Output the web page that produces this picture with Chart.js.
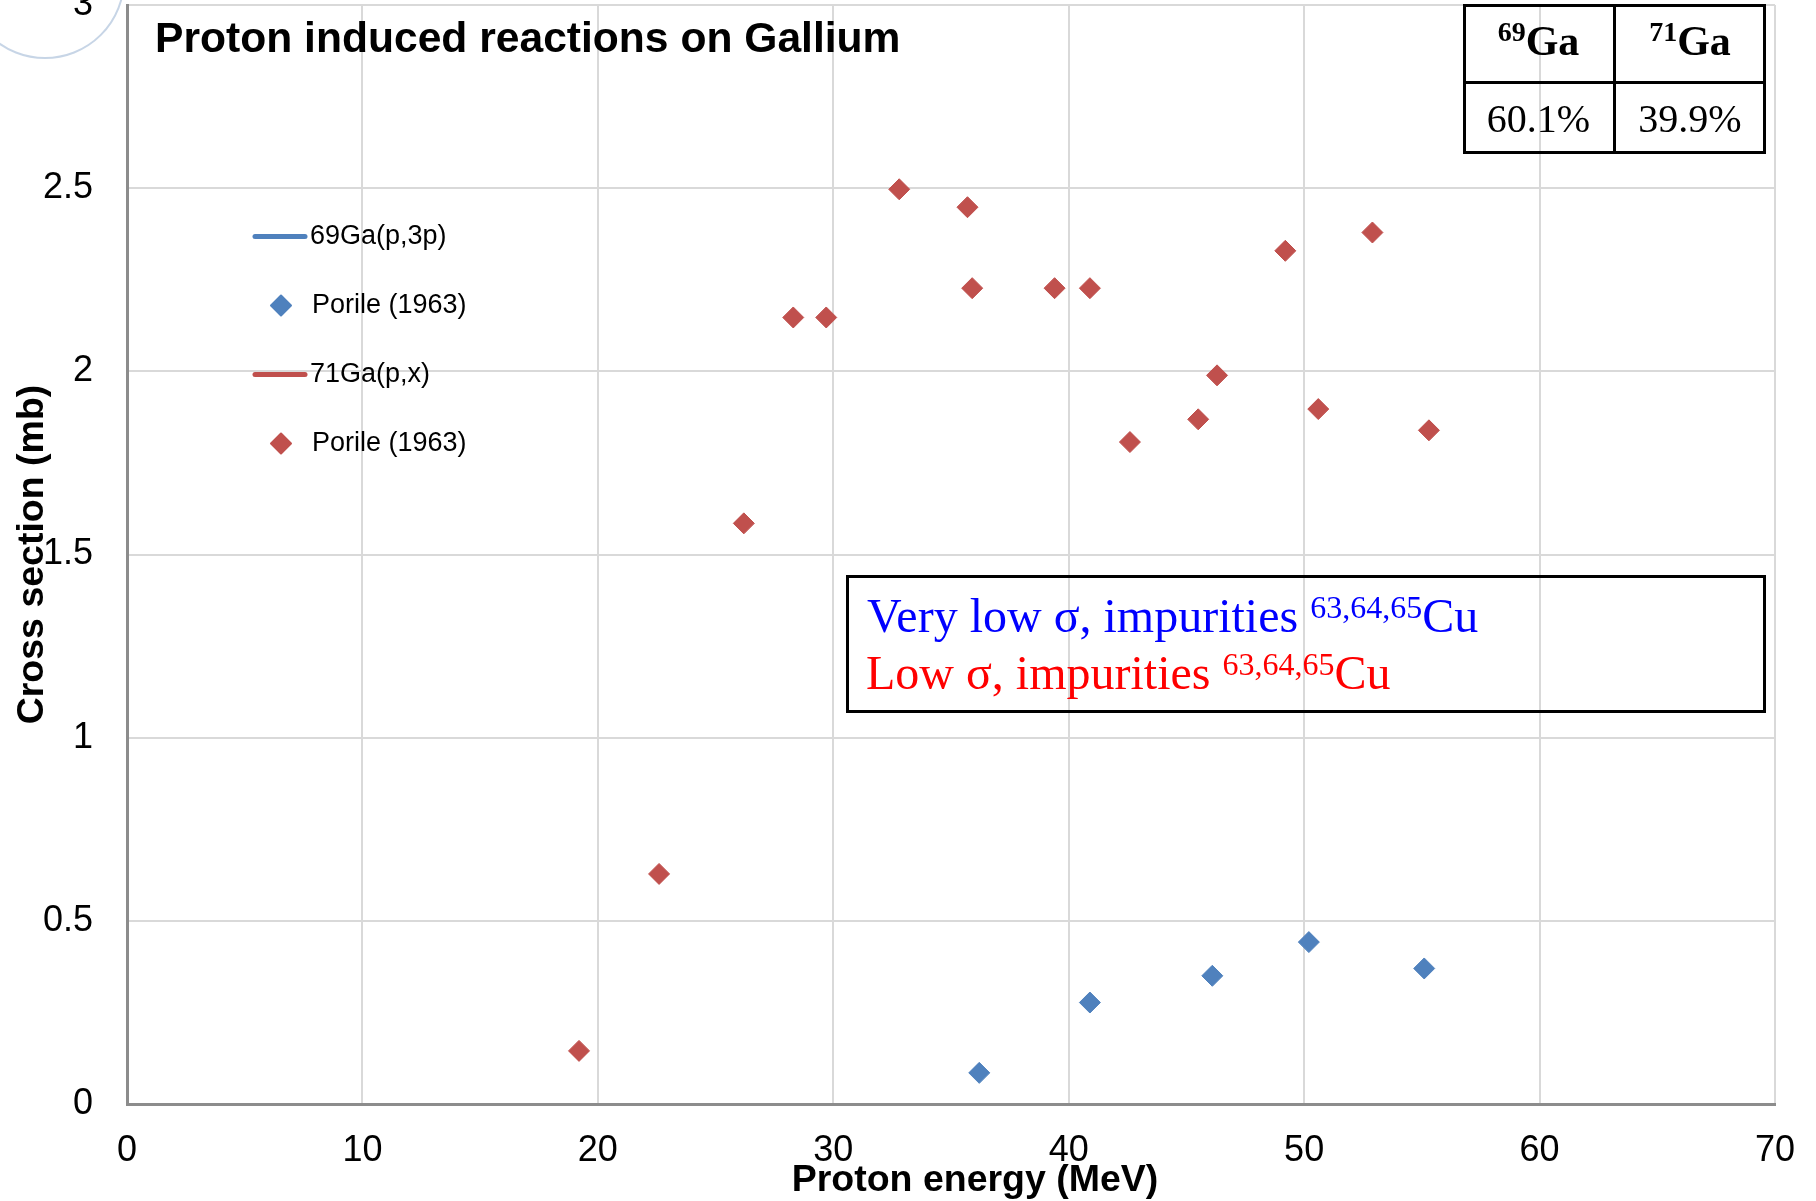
<!DOCTYPE html>
<html>
<head>
<meta charset="utf-8">
<script src="https://cdn.jsdelivr.net/npm/chart.js@4/dist/chart.umd.min.js"></script>
<style>
html,body{margin:0;padding:0;background:#fff;}
#wrap{position:relative;width:1816px;height:1201px;overflow:hidden;background:#fff;}
#c{position:absolute;left:0;top:-40px;}
.cell{position:absolute;display:flex;align-items:center;justify-content:center;font-family:"Liberation Serif","Times New Roman",serif;color:#000;}
.bx{position:absolute;box-sizing:border-box;border:3px solid #000;background:transparent;}
.ln{position:absolute;background:#000;}
.note{position:absolute;font-family:"Liberation Serif","Times New Roman",serif;font-size:48px;line-height:1;white-space:nowrap;}
.note sup, .cell sup{vertical-align:baseline;position:relative;}
</style>
</head>
<body>
<div id="wrap">
  <canvas id="c" width="1816" height="1241"></canvas>

  <!-- isotope abundance table -->
  <div class="bx" style="left:1463px;top:4px;width:303px;height:150px;"></div>
  <div class="ln" style="left:1613px;top:4px;width:3px;height:150px;"></div>
  <div class="ln" style="left:1463px;top:81px;width:303px;height:3px;"></div>
  <div class="cell" style="left:1463px;top:3px;width:151px;height:76px;font-weight:bold;font-size:42px;"><span><sup style="font-size:28px;top:-14px;">69</sup>Ga</span></div>
  <div class="cell" style="left:1614px;top:3px;width:152px;height:76px;font-weight:bold;font-size:42px;"><span><sup style="font-size:28px;top:-14px;">71</sup>Ga</span></div>
  <div class="cell" style="left:1463px;top:83px;width:151px;height:70px;font-size:40px;">60.1%</div>
  <div class="cell" style="left:1614px;top:83px;width:152px;height:70px;font-size:40px;">39.9%</div>

  <!-- note box -->
  <div class="bx" style="left:846px;top:575px;width:920px;height:138px;"></div>
  <div class="note" style="left:867px;top:592px;color:#0000ff;">Very low σ, impurities <sup style="font-size:32px;top:-14px;">63,64,65</sup>Cu</div>
  <div class="note" style="left:866px;top:649px;color:#ff0000;">Low σ, impurities <sup style="font-size:32px;top:-14px;">63,64,65</sup>Cu</div>
</div>

<script>
// ---- data ----
const energy69 = [36.2, 40.9, 46.1, 50.2, 55.1];
const sigma69  = [0.085, 0.277, 0.350, 0.442, 0.370];
const energy71 = [19.2, 22.6, 26.2, 28.3, 29.7, 32.8, 35.7, 35.9, 39.4, 40.9, 42.6, 45.5, 46.3, 49.2, 50.6, 52.9, 55.3];
const sigma71  = [0.145, 0.628, 1.585, 2.147, 2.147, 2.497, 2.448, 2.227, 2.227, 2.227, 1.807, 1.869, 1.989, 2.329, 1.897, 2.379, 1.839];
const seriesLabels = ['69Ga(p,3p)', 'Porile (1963)', '71Ga(p,x)', 'Porile (1963)'];
const xTicks = [0, 10, 20, 30, 40, 50, 60, 70];
const yTicks = [0, 0.5, 1, 1.5, 2, 2.5, 3];
const chartTitle = 'Proton induced reactions on Gallium';
const xTitle = 'Proton energy (MeV)';
const yTitle = 'Cross section (mb)';

const BLUE = '#4f81bd', RED = '#c0504d';
const OFF = 40; // canvas is shifted up by this many pixels

function pts(xs, ys){ return xs.map((x,i)=>({x:x, y:ys[i]})); }

const decorPlugin = {
  id:'decor',
  beforeDraw(chart){
    const ctx = chart.ctx;
    ctx.save();
    ctx.strokeStyle = 'rgba(175,195,220,0.7)';
    ctx.lineWidth = 2;
    ctx.beginPath();
    ctx.arc(45, -21 + OFF, 79, 0, Math.PI);
    ctx.stroke();
    ctx.restore();
  }
};

const textPlugin = {
  id:'texts',
  afterDraw(chart){
    const ctx = chart.ctx, a = chart.chartArea;
    ctx.save();
    // title
    ctx.fillStyle = '#000';
    ctx.font = 'bold 42.6px "Liberation Sans", Arial, sans-serif';
    ctx.textAlign = 'left';
    ctx.textBaseline = 'alphabetic';
    ctx.fillText(chartTitle, 155, 52 + OFF);
    // x axis title
    ctx.font = 'bold 37.5px "Liberation Sans", Arial, sans-serif';
    ctx.textAlign = 'center';
    ctx.textBaseline = 'middle';
    ctx.fillText(xTitle, (a.left + a.right) / 2 + 24, 1181 + OFF);
    // legend
    ctx.font = '27px "Liberation Sans", Arial, sans-serif';
    ctx.textAlign = 'left';
    chart.data.datasets.forEach((ds, i) => {
      const y = 236.5 + i * 69 + OFF;
      if (ds.type === 'line') {
        ctx.strokeStyle = ds.borderColor;
        ctx.lineWidth = 5;
        ctx.lineCap = 'round';
        ctx.beginPath();
        ctx.moveTo(255, y);
        ctx.lineTo(305, y);
        ctx.stroke();
        ctx.fillStyle = '#000';
        ctx.fillText(ds.label, 310, y);
      } else {
        ctx.fillStyle = ds.backgroundColor;
        ctx.strokeStyle = ds.backgroundColor;
        ctx.lineWidth = 2;
        ctx.lineJoin = 'round';
        ctx.beginPath();
        ctx.moveTo(281, y - 10);
        ctx.lineTo(291, y);
        ctx.lineTo(281, y + 10);
        ctx.lineTo(271, y);
        ctx.closePath();
        ctx.fill();
        ctx.stroke();
        ctx.fillStyle = '#000';
        ctx.fillText(ds.label, 312, y);
      }
    });
    ctx.restore();
  }
};

const tickFont = { family: '"Liberation Sans", Arial, sans-serif', size: 36 };

new Chart(document.getElementById('c'), {
  type: 'scatter',
  data: {
    datasets: [
      { type:'line', label: seriesLabels[0], data: [], borderColor: BLUE, backgroundColor: BLUE, borderWidth: 4, pointRadius: 0 },
      { type:'scatter', label: seriesLabels[1], data: pts(energy69, sigma69), backgroundColor: BLUE, borderColor: BLUE, pointStyle:'rectRot', pointRadius: 10.5, pointHoverRadius: 10.5, borderWidth: 1 },
      { type:'line', label: seriesLabels[2], data: [], borderColor: RED, backgroundColor: RED, borderWidth: 4, pointRadius: 0 },
      { type:'scatter', label: seriesLabels[3], data: pts(energy71, sigma71), backgroundColor: RED, borderColor: RED, pointStyle:'rectRot', pointRadius: 10.5, pointHoverRadius: 10.5, borderWidth: 1 }
    ]
  },
  options: {
    responsive: false,
    animation: false,
    devicePixelRatio: 1,
    layout: { padding: { top: 45, right: 41, left: 0, bottom: 0 } },
    plugins: { legend: { display: false }, tooltip: { enabled: false }, title: { display: false } },
    scales: {
      x: {
        type: 'linear', min: 0, max: 70,
        afterFit(s){ s.height = 97; s.paddingLeft = 0; s.paddingRight = 0; s.paddingTop = 0; s.paddingBottom = 0; },
        afterBuildTicks(s){ s.ticks = xTicks.map(v => ({value: v})); },
        grid: { color: '#d9d9d9', lineWidth: 2, drawTicks: false },
        border: { color: '#8c8c8c', width: 3 },
        ticks: { color: '#000', padding: 25, maxRotation: 0, font: tickFont, callback: v => String(v) }
      },
      y: {
        type: 'linear', min: 0, max: 3,
        afterFit(s){ s.width = 127; s.paddingTop = 0; s.paddingBottom = 0; s.paddingLeft = 0; s.paddingRight = 0; },
        afterBuildTicks(s){ s.ticks = yTicks.map(v => ({value: v})); },
        grid: { color: '#d9d9d9', lineWidth: 2, drawTicks: false },
        border: { color: '#8c8c8c', width: 3 },
        title: { display: true, text: yTitle, color: '#000', padding: { top: 10, bottom: 0 }, font: { family: '"Liberation Sans", Arial, sans-serif', size: 37.5, weight: 'bold' } },
        ticks: { color: '#000', padding: 34, font: tickFont, callback: v => String(v) }
      }
    }
  },
  plugins: [decorPlugin, textPlugin]
});
</script>
</body>
</html>
